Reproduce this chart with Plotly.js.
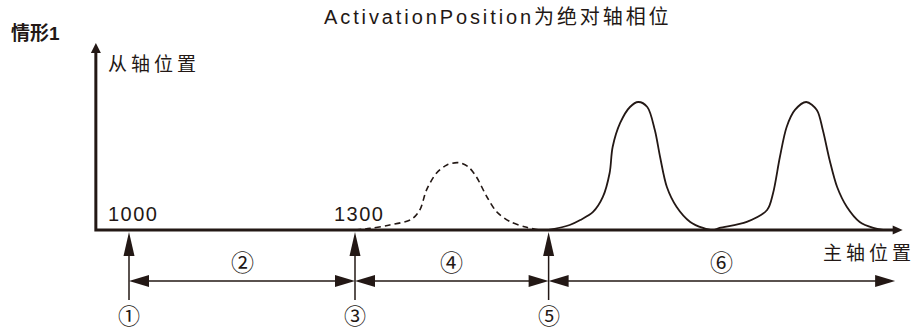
<!DOCTYPE html>
<html>
<head>
<meta charset="utf-8">
<script src="https://cdn.plot.ly/plotly-3.0.1.min.js"></script>
<style>
html,body{margin:0;padding:0;background:#fff;}
#chart{width:916px;height:329px;}
</style>
</head>
<body>
<div id="chart"></div>
<script>
// ---------- data ----------
const titleText = 'ActivationPosition为绝对轴相位';
const caseLabel = '情形1';
const yAxisLabel = '从轴位置';
const xAxisLabel = '主轴位置';
const tickValues = [1000, 1300];
const tickLabels = ['1000', '1300'];
const markPositions = [1000, 1300, 1557];      // ① ③ ⑤
const markLabels = ['①', '③', '⑤'];
const phaseEnd = 2017;                          // end of ⑥ span
const spanLabels = ['②', '④', '⑥'];
const axisOrigin = 956;                         // master position where axes cross
const axisXEnd = 2027;                          // tip of master axis arrow
const axisYEnd = 146;                           // tip of slave axis arrow

// dashed cam (before activation)
const dashedX = [1300, 1320, 1346, 1375, 1386, 1395, 1408, 1422, 1437, 1450, 1461, 1475, 1488, 1506, 1528, 1546, 1557];
const dashedY = [0, 1.3, 3.9, 8.4, 15.6, 31.3, 44.3, 50.8, 52.6, 49.5, 41.6, 26.0, 14.3, 6.5, 2.1, 0, 0];
// solid cam (after activation, two cycles)
const solidX = [1557, 1585, 1599, 1616, 1629, 1638, 1642, 1652, 1665, 1676, 1688, 1698, 1705, 1714, 1727, 1745, 1762, 1775,
                1784, 1820, 1847, 1855, 1864, 1873, 1884, 1899, 1913, 1921, 1930, 1940, 1953, 1970, 1988, 2001];
const solidY = [0, 3.9, 7.8, 14.1, 25.8, 44.5, 64.8, 83.6, 96.1, 100, 96.1, 78.1, 57.0, 33.6, 18.0, 6.3, 1.6, 0,
                1.6, 6.3, 15.6, 28.9, 57.0, 80.5, 93.8, 100, 93.8, 78.1, 54.7, 33.6, 18.0, 6.3, 1.6, 0];

// ---------- layout geometry ----------
const W = 916, H = 329;
const PXX = 226 / 300;   // px per master unit
const PXY = 1.28;        // px per slave unit
const xRange = [1000 - 129 / PXX, 1000 + (W - 129) / PXX];
const yRange = [-(H - 230) / PXY, 230 / PXY];
const ux = px => px / PXX;
const uy = px => px / PXY;

const INK = '#231815';
const FONT = '"Liberation Sans", Arial, "Noto Sans CJK SC", sans-serif';
const CJK = '"Noto Sans CJK SC", "Liberation Sans", sans-serif';

const rowArrow = -uy(51);     // horizontal span arrows
const rowMarkBottom = -uy(70);
const rowMarkLabel = -uy(84);
const rowSpanLabel = -uy(31);

const shapes = [];
function path(d, fill, w) {
  shapes.push({type: 'path', xref: 'x', yref: 'y', path: d,
    fillcolor: fill || 'rgba(0,0,0,0)', line: {color: INK, width: w === undefined ? 0 : w}});
}
function line(x0, y0, x1, y1, w) {
  shapes.push({type: 'line', xref: 'x', yref: 'y', x0, y0, x1, y1, line: {color: INK, width: w}});
}
function upHead(x, yTip, len, hw) {
  path(`M${x},${yTip} L${x - ux(hw)},${yTip - uy(len)} L${x + ux(hw)},${yTip - uy(len)} Z`, INK);
}
function rightHead(xTip, y, len, hh) {
  path(`M${xTip},${y} L${xTip - ux(len)},${y + uy(hh)} L${xTip - ux(len)},${y - uy(hh)} Z`, INK);
}
function leftHead(xTip, y, len, hh) {
  path(`M${xTip},${y} L${xTip + ux(len)},${y + uy(hh)} L${xTip + ux(len)},${y - uy(hh)} Z`, INK);
}

// main axes (L shape) with arrowheads
path(`M${axisOrigin},${axisYEnd - uy(8)} L${axisOrigin},0 L${axisXEnd - ux(8)},0`, null, 3);
upHead(axisOrigin, axisYEnd, 10, 5);
rightHead(axisXEnd, 0, 10, 4.5);

// vertical markers
markPositions.forEach(x => {
  line(x, rowMarkBottom, x, -uy(12), 1.5);
  upHead(x, -uy(2), 24, 5.5);
});
// horizontal double arrows
const spanEdges = markPositions.concat([phaseEnd]);
for (let i = 0; i < spanEdges.length - 1; i++) {
  const a = spanEdges[i], b = spanEdges[i + 1];
  line(a + ux(10), rowArrow, b - ux(10), rowArrow, 1.5);
  leftHead(a, rowArrow, 20, 6);
  rightHead(b, rowArrow, 20, 6);
}

const annotations = [];
function txt(text, x, y, opts) {
  annotations.push(Object.assign({text, x, y, xref: 'x', yref: 'y', showarrow: false, borderpad: 0,
    xanchor: 'center', yanchor: 'middle', font: {family: FONT, size: 20, color: INK}}, opts || {}));
}
const sp = (s, ls) => `<span style="letter-spacing:${ls}px">${s}</span>`;

tickValues.forEach((v, i) => txt(sp(tickLabels[i], 1.5), v + ux(4), uy(16)));
markPositions.forEach((v, i) => txt(markLabels[i], v, rowMarkLabel, {font: {family: CJK, size: 22, color: INK}}));
for (let i = 0; i < spanEdges.length - 1; i++) {
  txt(spanLabels[i], (spanEdges[i] + spanEdges[i + 1]) / 2, rowSpanLabel, {font: {family: CJK, size: 23, color: INK}});
}
txt(sp(yAxisLabel, 4), axisOrigin + ux(11), uy(168), {xanchor: 'left', font: {family: CJK, size: 19, color: INK}});
txt(sp(xAxisLabel, 4), 1000 + ux(822 - 129), -uy(21), {xanchor: 'left', font: {family: CJK, size: 19, color: INK}});
annotations.push({text: '<b>' + caseLabel + '</b>', xref: 'paper', yref: 'paper', x: 10 / W, y: 1 - 34 / H,
  xanchor: 'left', yanchor: 'middle', showarrow: false, borderpad: 0, font: {family: FONT, size: 19, color: INK}});
annotations.push({text: sp(titleText, 2.9), xref: 'paper', yref: 'paper', x: 323 / W, y: 1 - 17 / H,
  xanchor: 'left', yanchor: 'middle', showarrow: false, borderpad: 0, font: {family: FONT, size: 20, color: INK}});

const traces = [
  {x: dashedX, y: dashedY, mode: 'lines', line: {color: INK, width: 1.6, dash: '6px,4px', shape: 'spline', smoothing: 0.9}, hoverinfo: 'skip'},
  {x: solidX, y: solidY, mode: 'lines', line: {color: INK, width: 1.8, shape: 'spline', smoothing: 0.9}, hoverinfo: 'skip'}
];

const layout = {
  width: W, height: H,
  margin: {l: 0, r: 0, t: 0, b: 0, pad: 0},
  paper_bgcolor: '#fff', plot_bgcolor: '#fff',
  showlegend: false,
  xaxis: {range: xRange, visible: false, fixedrange: true},
  yaxis: {range: yRange, visible: false, fixedrange: true},
  shapes, annotations
};
Plotly.newPlot('chart', traces, layout, {displayModeBar: false, staticPlot: true});
</script>
</body>
</html>
